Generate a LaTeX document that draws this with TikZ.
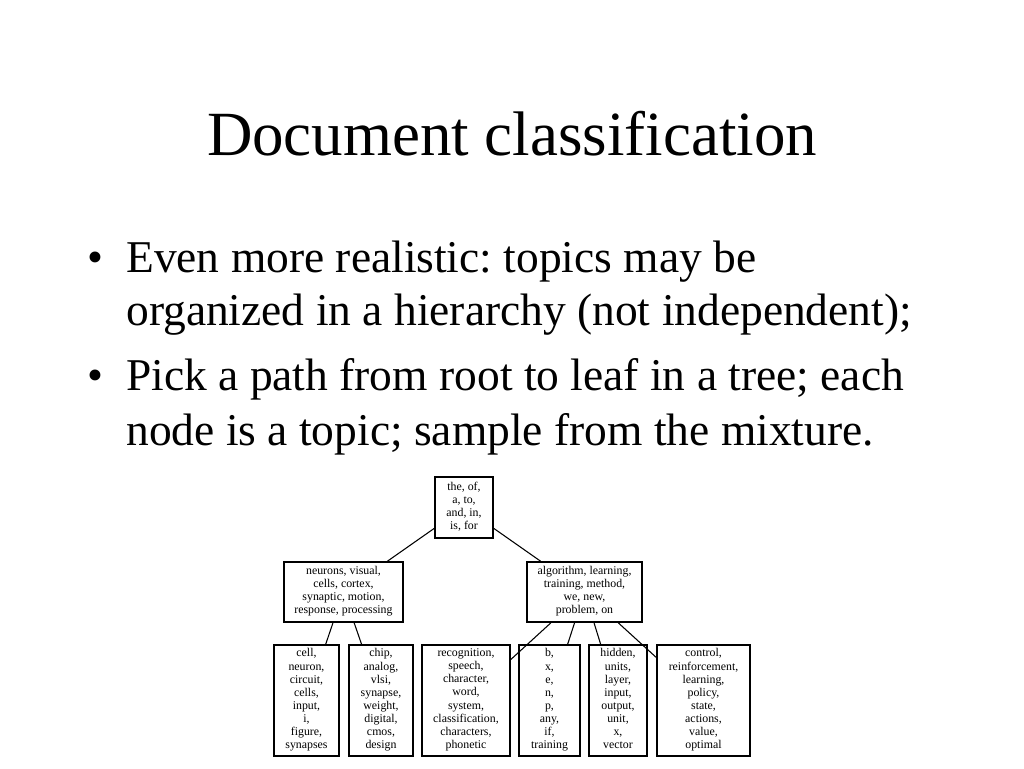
\documentclass[tikz,border=0pt]{standalone}
\usepackage{fontspec}
\setmainfont{Liberation Serif}
\frenchspacing
\begin{document}
\begin{tikzpicture}[x=0.75pt,y=-0.75pt,
  box/.style={draw, line width=1.3pt, align=center, inner sep=0pt,
    font=\fontsize{8.9}{9.8}\selectfont,
    execute at begin node=\strut, execute at end node=\strut},
  edge/.style={line width=0.8pt},
  bigtext/.style={anchor=base west, inner sep=0pt, font=\fontsize{34.1}{40}\selectfont}]
\useasboundingbox (0,0) rectangle (1024,768);
% title
\node[anchor=base, inner sep=0pt, font=\fontsize{47.2}{52}\selectfont] (title) at (512,155) {Document classification};
% bullets
\node[bigtext] (b1) at (87,272) {\textbullet};
\node[bigtext] (l1) at (126,272) {Even more realistic: topics may be};
\node[bigtext] (l2) at (126,325) {organized in a hierarchy (not independent);};
\node[bigtext] (b2) at (87,390) {\textbullet};
\node[bigtext] (l3) at (126,390) {Pick a path from root to leaf in a tree; each};
\node[bigtext] (l4) at (126,445) {node is a topic; sample from the mixture.};
% tree
\node[box, minimum width={58*0.75pt}, minimum height={61*0.75pt}] (root) at (464,507.5)
  {the, of,\\ a, to,\\ and, in,\\ is, for};
\node[box, minimum width={119*0.75pt}, minimum height={60*0.75pt}] (lm) at (343.5,592)
  {neurons, visual,\\ cells, cortex,\\ synaptic, motion,\\ response, processing};
\node[box, minimum width={115*0.75pt}, minimum height={60*0.75pt}] (rm) at (584.5,592)
  {algorithm, learning,\\ training, method,\\ we, new,\\ problem, on};
\node[box, minimum width={65*0.75pt}, minimum height={111*0.75pt}] (cell) at (306.5,700.5)
  {cell,\\ neuron,\\ circuit,\\ cells,\\ input,\\ i,\\ figure,\\ synapses};
\node[box, minimum width={64*0.75pt}, minimum height={111*0.75pt}] (chip) at (381,700.5)
  {chip,\\ analog,\\ vlsi,\\ synapse,\\ weight,\\ digital,\\ cmos,\\ design};
\node[box, minimum width={88*0.75pt}, minimum height={111*0.75pt}] (rec) at (466,700.5)
  {recognition,\\ speech,\\ character,\\ word,\\ system,\\ classification,\\ characters,\\ phonetic};
\node[box, minimum width={61*0.75pt}, minimum height={111*0.75pt}] (bx) at (549.5,700.5)
  {b,\\ x,\\ e,\\ n,\\ p,\\ any,\\ if,\\ training};
\node[box, minimum width={58*0.75pt}, minimum height={111*0.75pt}] (hid) at (618,700.5)
  {hidden,\\ units,\\ layer,\\ input,\\ output,\\ unit,\\ x,\\ vector};
\node[box, minimum width={93*0.75pt}, minimum height={111*0.75pt}] (ctl) at (703.5,700.5)
  {control,\\ reinforcement,\\ learning,\\ policy,\\ state,\\ actions,\\ value,\\ optimal};
% connectors
\draw[edge] (root) -- (lm);
\draw[edge] (root) -- (rm);
\draw[edge] (lm) -- (cell);
\draw[edge] (lm) -- (chip);
\draw[edge] (rm) -- (rec);
\draw[edge] (rm) -- (bx);
\draw[edge] (rm) -- (hid);
\draw[edge] (rm) -- (ctl);
\end{tikzpicture}
\end{document}
